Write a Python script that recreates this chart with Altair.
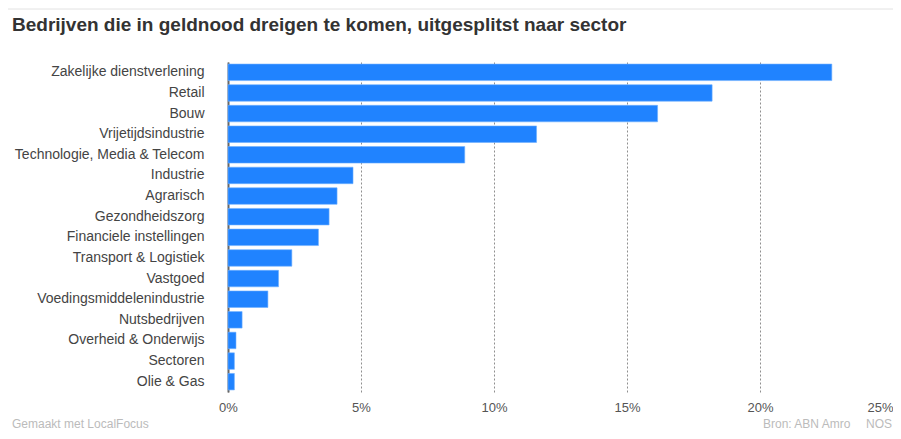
import altair as alt
import pandas as pd

sectors = [
    "Zakelijke dienstverlening", "Retail", "Bouw", "Vrijetijdsindustrie",
    "Technologie, Media & Telecom", "Industrie", "Agrarisch", "Gezondheidszorg",
    "Financiele instellingen", "Transport & Logistiek", "Vastgoed",
    "Voedingsmiddelenindustrie", "Nutsbedrijven", "Overheid & Onderwijs",
    "Sectoren", "Olie & Gas",
]
values = [22.7, 18.2, 16.15, 11.6, 8.9, 4.7, 4.1, 3.8, 3.4, 2.4, 1.9, 1.5,
          0.53, 0.3, 0.24, 0.24]
x_ticks = [0, 5, 10, 15, 20, 25]

title_text = "Bedrijven die in geldnood dreigen te komen, uitgesplitst naar sector"
footer_left = "Gemaakt met LocalFocus"
footer_right = "Bron: ABN Amro"
footer_right2 = "NOS"

df = pd.DataFrame({"sector": sectors, "value": values})

FONT = "Liberation Sans"
W, H = 665, 330

bars = alt.Chart(df).mark_bar(color="#2083ff", stroke="#6fb0ff", strokeWidth=0.6).encode(
    x=alt.X("value:Q",
            scale=alt.Scale(domain=[0, 25], nice=False, zero=True),
            axis=alt.Axis(values=x_ticks, labelExpr="datum.value + '%'",
                          title=None, domain=False, ticks=False,
                          grid=True, gridDash=[2, 2], gridColor="#8f8f8f",
                          gridWidth=1, labelFontSize=13, labelColor="#555555",
                          labelFont=FONT, labelPadding=9, labelFlush=False,
                          labelAlign=alt.condition("datum.value == 25",
                                                   alt.value("right"),
                                                   alt.value("center")))),
    y=alt.Y("sector:N", sort=sectors,
            scale=alt.Scale(paddingInner=0.2, paddingOuter=0.1),
            axis=alt.Axis(title=None, ticks=False, domain=True,
                          domainColor="#666666", domainWidth=2,
                          labelFontSize=14, labelColor="#444444",
                          labelFont=FONT, labelPadding=24, labelLimit=300)),
)

one = pd.DataFrame({"a": [0]})

# decorative border of the widget (only top and left edges fall inside the page)
frame = alt.Chart(one).mark_rect(fill="transparent", stroke="#e2e2e2", strokeWidth=1).encode(
    x=alt.value(-221), x2=alt.value(W + 30), y=alt.value(-53), y2=alt.value(H + 80))

title = alt.Chart(pd.DataFrame({"t": [title_text]})).mark_text(
    align="left", baseline="alphabetic", fontSize=19, fontWeight="bold",
    color="#333333", font=FONT
).encode(text="t:N", x=alt.value(-216), y=alt.value(-31))

foot_l = alt.Chart(pd.DataFrame({"t": [footer_left]})).mark_text(
    align="left", baseline="alphabetic", fontSize=12, color="#bbbbbb", font=FONT
).encode(text="t:N", x=alt.value(-216), y=alt.value(H + 36))
foot_r = alt.Chart(pd.DataFrame({"t": [footer_right]})).mark_text(
    align="left", baseline="alphabetic", fontSize=12, color="#bbbbbb", font=FONT
).encode(text="t:N", x=alt.value(535), y=alt.value(H + 36))
foot_r2 = alt.Chart(pd.DataFrame({"t": [footer_right2]})).mark_text(
    align="left", baseline="alphabetic", fontSize=12, color="#bbbbbb", font=FONT
).encode(text="t:N", x=alt.value(638), y=alt.value(H + 36))

chart = alt.layer(frame, bars, title, foot_l, foot_r, foot_r2).properties(
    width=W, height=H,
    background="white",
    autosize=alt.AutoSizeParams(type="none"),
    padding={"left": 220, "top": 54, "right": 0, "bottom": 39},
).configure_view(strokeWidth=0, stroke="transparent")

chart.save("out.html", embed_options={"renderer": "svg", "actions": False})
